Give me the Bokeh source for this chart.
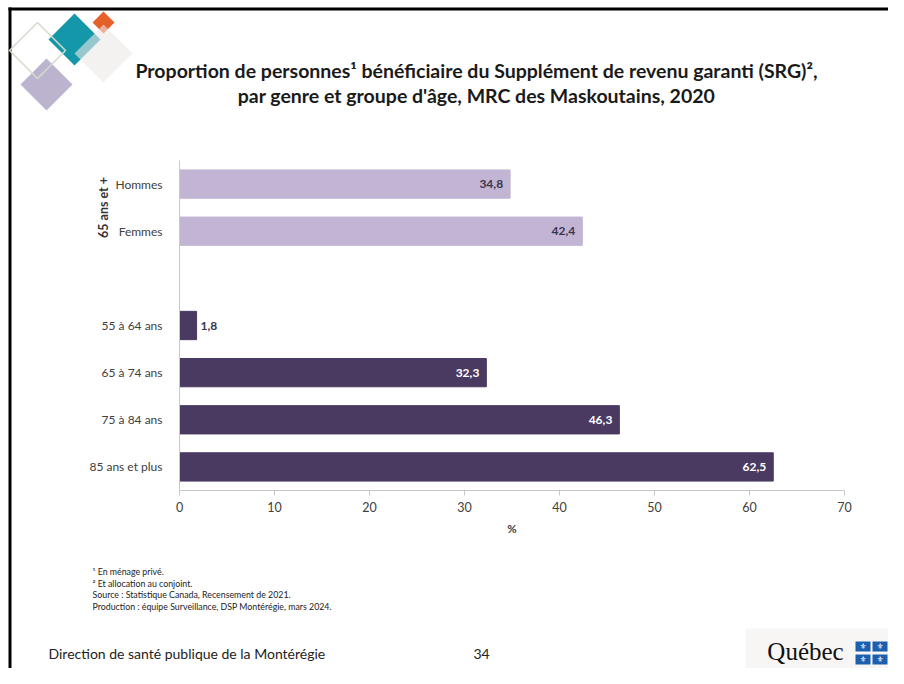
from math import pi
from bokeh.plotting import figure
from bokeh.models import ColumnDataSource, Range1d, FixedTicker
from bokeh.core.properties import value
from bokeh.embed import file_html
from bokeh.resources import INLINE

# ---- data ----
categories = ["Hommes", "Femmes", "55 à 64 ans", "65 à 74 ans", "75 à 84 ans", "85 ans et plus"]
slots = [0, 1, 3, 4, 5, 6]
values = [34.8, 42.4, 1.8, 32.3, 46.3, 62.5]
groups = ["65+", "65+", "age", "age", "age", "age"]
value_labels = ["34,8", "42,4", "1,8", "32,3", "46,3", "62,5"]
x_ticks = [0, 10, 20, 30, 40, 50, 60, 70]

FONT = "Lato"
W, H = 888, 668
FL, FR, FT, FB = 179, 844, 160, 490   # frame edges in canvas px
LIGHT = "#C2B5D4"
DARK = "#4A3A61"

p = figure(width=W, height=H, output_backend="svg", toolbar_location=None,
           x_range=Range1d(0, 70), y_range=Range1d(6.5, -0.5),
           min_border_left=FL, min_border_right=W - FR, min_border_top=FT, min_border_bottom=H - FB)
p.outline_line_color = None
p.grid.grid_line_color = None
p.background_fill_color = "white"
p.border_fill_color = "white"
# pixel ranges for page decorations (canvas coords, y downward)
p.extra_x_ranges = {"px": Range1d(FL, FR)}
p.extra_y_ranges = {"px": Range1d(FB, FT)}

colors = [LIGHT if g == "65+" else DARK for g in groups]
src = ColumnDataSource(dict(y=slots, v=values, c=colors))
p.hbar(y="y", left=0, right="v", height=0.6, fill_color="c", line_color="c", source=src)

ins = ColumnDataSource(dict(y=[s for s, v in zip(slots, values) if v >= 5],
                            v=[v for v in values if v >= 5],
                            lab=[l for l, v in zip(value_labels, values) if v >= 5],
                            tc=[("#3A3550" if g == "65+" else "white") for g, v in zip(groups, values) if v >= 5]))
p.text(x="v", y="y", text="lab", source=ins, x_offset=-7, text_align="right",
       text_baseline="middle", text_color="tc", text_font=value(FONT),
       text_font_style="bold", text_font_size="12px")
outs = ColumnDataSource(dict(y=[s for s, v in zip(slots, values) if v < 5],
                             v=[v for v in values if v < 5],
                             lab=[l for l, v in zip(value_labels, values) if v < 5]))
p.text(x="v", y="y", text="lab", source=outs, x_offset=4, text_align="left",
       text_baseline="middle", text_color="#3A3550", text_font=value(FONT),
       text_font_style="bold", text_font_size="12px")

# axes
xa = p.xaxis[0]
xa.ticker = FixedTicker(ticks=x_ticks)
xa.axis_line_color = "#C8C8C8"
xa.major_tick_line_color = "#C8C8C8"
xa.major_tick_out = 5
xa.major_tick_in = 0
xa.minor_tick_line_color = None
xa.major_label_text_font = FONT
xa.major_label_text_font_size = "12.5px"
xa.major_label_text_color = "#404040"
xa.major_label_standoff = 6
xa.axis_label = "%"
xa.axis_label_text_font = FONT
xa.axis_label_text_font_style = "bold"
xa.axis_label_text_font_size = "11.5px"
xa.axis_label_text_color = "#404040"
xa.axis_label_standoff = 7

ya = p.yaxis[0]
ya.ticker = FixedTicker(ticks=slots)
ya.major_label_overrides = {s: c for s, c in zip(slots, categories)}
ya.axis_line_color = "#C8C8C8"
ya.major_tick_line_color = None
ya.minor_tick_line_color = None
ya.major_label_text_font = FONT
ya.major_label_text_font_size = "12px"
ya.major_label_text_color = "#404040"
ya.major_label_standoff = 11

PX = dict(x_range_name="px", y_range_name="px", level="overlay")

def label(x, y, text, size, style="normal", align="left", color="#1a1a1a", font=FONT, angle=0.0):
    p.text(x=[x], y=[y], text=[text], text_font=value(font), text_font_size=size,
           text_font_style=style, text_align=align, text_baseline="middle",
           text_color=color, angle=angle, **PX)

def poly(pts, fill, alpha=1.0, line=None, lw=1.0):
    p.patch(x=[a for a, b in pts], y=[b for a, b in pts], fill_color=fill, fill_alpha=alpha,
            line_color=line if line else fill, line_width=lw, line_alpha=1.0 if line else 0.0, **PX)

def diamond(cx, cy, r, fill, alpha=1.0, line=None, lw=1.0):
    poly([(cx, cy - r), (cx + r, cy), (cx, cy + r), (cx - r, cy)], fill, alpha, line, lw)

# rotated group label
label(103, 207, "65 ans et +", "12.5px", "bold", align="center", color="#333333", angle=pi / 2)

# slide border (top and left)
poly([(8, 7), (W, 7), (W, 10), (8, 10)], "black")
poly([(8, 7), (11, 7), (11, H), (8, H)], "black")

# decorative diamonds
diamond(74, 39, 26, "#1497A9")
diamond(103, 22, 11, "#E5602B")
diamond(46, 84, 26, "#B8AFCB", 0.95)
diamond(37, 50, 28, "white", 0.0, "#D3DBCD", 1.5)
diamond(103, 53, 29, "#ECE9E7", 0.6)

# title
label(476, 70, "Proportion de personnes¹ bénéficiaire du Supplément de revenu garanti (SRG)²,", "19.5px", "bold", align="center")
label(476, 95, "par genre et groupe d'âge, MRC des Maskoutains, 2020", "19.5px", "bold", align="center")

# footnotes
notes = ["¹ En ménage privé.", "² Et allocation au conjoint.",
         "Source : Statistique Canada, Recensement de 2021.",
         "Production : équipe Surveillance, DSP Montérégie, mars 2024."]
for i, t in enumerate(notes):
    label(92, 571 + i * 11.5, t, "8.8px", color="#222222")

# footer
label(48, 653, "Direction de santé publique de la Montérégie", "14px", color="#222222")
label(481, 653, "34", "14px", align="center", color="#222222")

# Québec logo
poly([(745, 628), (W, 628), (W, H), (745, H)], "#F8F6F4")
label(805, 651, "Québec", "25px", color="#111111", font="Liberation Serif", align="center")
for (bx, by) in [(855, 641), (872, 641), (855, 654), (872, 654)]:
    poly([(bx, by), (bx + 15, by), (bx + 15, by + 10), (bx, by + 10)], "#1B5FAE")
    label(bx + 7.5, by + 5.3, "⚜", "8px", align="center", color="white", font="DejaVu Sans")

open("out.html", "w").write(file_html(p, INLINE))
